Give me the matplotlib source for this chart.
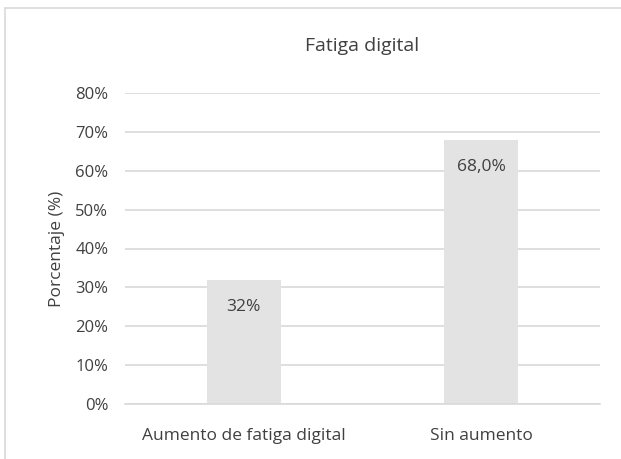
import matplotlib
matplotlib.use("Agg")
import matplotlib.pyplot as plt
from matplotlib.patches import Rectangle
from matplotlib.ticker import PercentFormatter

categories = ["Aumento de fatiga digital", "Sin aumento"]
values = [32, 68.0]
value_labels = ["32%", "68,0%"]
yticks = [0, 10, 20, 30, 40, 50, 60, 70, 80]

plt.rcParams['font.family'] = ['Open Sans', 'DejaVu Sans']
txt = '#404040'

fig = plt.figure(figsize=(6.21, 4.59), dpi=100)
fig.patches.append(Rectangle((5/621, -0.1), 1.2, 1 - 8/459 + 0.1, transform=fig.transFigure,
                             fill=False, edgecolor='#d9d9d9', linewidth=1.2, zorder=0))
ax = fig.add_axes([125/621, 1 - 404/459, 475/621, (404 - 93)/459])

x = range(len(categories))
bars = ax.bar(x, values, width=0.31, color='#e3e3e3', zorder=2)
ax.set_xlim(-0.5, 1.5)
ax.set_ylim(0, 80)
ax.set_yticks(yticks)
ax.yaxis.set_major_formatter(PercentFormatter(decimals=0))
ax.set_xticks(list(x))
ax.set_xticklabels(categories)
ax.grid(axis='y', color='#d9d9d9', linewidth=1.2, zorder=0)
for s in ['top', 'right', 'left']:
    ax.spines[s].set_visible(False)
ax.spines['bottom'].set_color('#d9d9d9')
ax.spines['bottom'].set_linewidth(1.2)
ax.tick_params(axis='both', length=0, labelsize=12.5, colors=txt)
ax.tick_params(axis='x', pad=17)
ax.tick_params(axis='y', pad=12)
for t in ax.get_yticklabels():
    t.set_fontsize(12)

for b, lab in zip(bars, value_labels):
    ax.annotate(lab, (b.get_x() + b.get_width() / 2, b.get_height()),
                xytext=(0, -27), textcoords='offset pixels',
                ha='center', va='center', fontsize=12.5, color=txt)

ax.set_ylabel("Porcentaje (%)", fontsize=12.5, color=txt, labelpad=7)
fig.text(0.5 * (125 + 600) / 621, 1 - 46/459, "Fatiga digital", ha='center', va='center',
         fontsize=14, color=txt)

fig.savefig("out.png", dpi=100, facecolor='white')
